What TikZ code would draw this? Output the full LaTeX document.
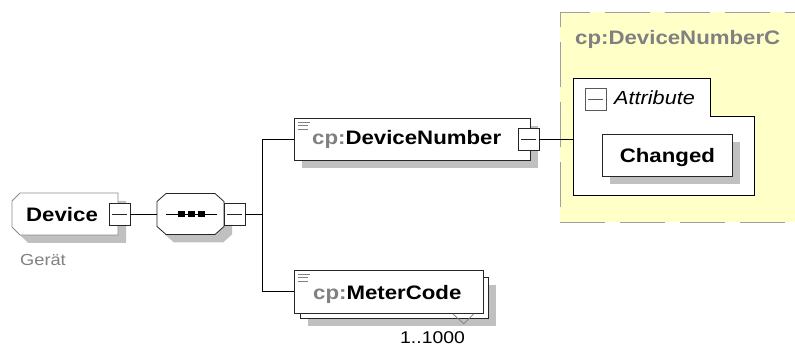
\documentclass[tikz,border=0pt]{standalone}
\usepackage{fontspec}
\setmainfont{Liberation Sans}[FakeStretch=1.14]
\usetikzlibrary{shadows,calc}
\definecolor{shd}{RGB}{192,192,192}
\definecolor{grpfill}{RGB}{255,255,200}
\definecolor{grpline}{RGB}{160,160,160}
\definecolor{nsgray}{RGB}{128,128,128}
\definecolor{devline}{RGB}{140,140,140}
\begin{document}
\begin{tikzpicture}[x=1pt,y=-1pt,
  dropshd/.style={general shadow={fill=shd, shadow xshift=8pt, shadow yshift=-8pt}},
  elbox/.style={draw=black!85, fill=white, line width=0.8pt, inner sep=0pt, dropshd},
  anchorbox/.style={inner sep=0pt, outer sep=0pt, anchor=north west},
  shdfill/.style={fill=shd, draw=none, transform canvas={shift={(8pt,-8pt)}}},
  minusbox/.style={draw=black!85, fill=white, line width=0.8pt, inner sep=0pt,
    minimum width=21, minimum height=22,
    path picture={\draw[line width=0.7pt] ([xshift=3pt]path picture bounding box.west) -- ([xshift=-3pt]path picture bounding box.east);}},
  boldlbl/.style={inner sep=0pt, anchor=base west, font=\fontsize{19.5}{22}\selectfont\bfseries},
  conn/.style={line width=0.8pt, black},
  noteicon/.style={nsgray, line width=0.8pt},
  % outline of the Device element: chamfered on the left only
  devpath/.style={insert path={($(dev.north west)+(8,0)$) -- (dev.north east) -- (dev.south east)
     -- ($(dev.south west)+(8,0)$) -- ($(dev.south west)+(0,-8)$) -- ($(dev.north west)+(0,8)$) -- cycle}},
  % outline of the sequence compositor: chamfered on all corners
  seqpath/.style={insert path={($(seq.north west)+(9,0)$) -- ($(seq.north east)+(-9,0)$) -- ($(seq.north east)+(0,8)$)
     -- ($(seq.south east)+(0,-8)$) -- ($(seq.south east)+(-9,0)$) -- ($(seq.south west)+(9,0)$)
     -- ($(seq.south west)+(0,-8)$) -- ($(seq.north west)+(0,8)$) -- cycle}}
]
\useasboundingbox (0,0) rectangle (795,347);

% attribute group (yellow, dashed)
\node[draw=grpline, fill=grpfill, line width=0.9pt, dash pattern=on 45pt off 15pt,
      minimum width=240, minimum height=210, anchorbox] (grp) at (560,12) {};
\node[boldlbl, text=nsgray] (grptitle) at (575,45) {cp:DeviceNumberC};

% Device element
\node[anchorbox, minimum width=106, minimum height=42] (dev) at (12,193) {};
\fill[shdfill, devpath];
\draw[devline, fill=white, line width=0.8pt, devpath];
\node[boldlbl] (devtxt) at (26,222) {Device};
\node[inner sep=0pt, anchor=base west, text=nsgray, font=\fontsize{16}{19}\selectfont] (devann) at (20,266) {Gerät};
\node[minusbox] (devm) at (119.5,214) {};

% sequence compositor
\node[anchorbox, minimum width=67, minimum height=41] (seq) at (157,193.5) {};
\fill[shdfill, seqpath];
\draw[black!85, fill=white, line width=0.8pt, seqpath];
\draw[line width=0.8pt] ($(seq.west)+(9,0)$) -- ($(seq.east)+(-7,0)$);
\foreach \dx in {-9,1,11}
  \fill ($(seq.center)+(\dx,0)+(-3.5,-2.5)$) rectangle ++(7,6);
\node[minusbox] (seqm) at (234.5,214) {};

% cp:DeviceNumber
\node[elbox, minimum width=236, minimum height=42, anchor=north west] (dn) at (294,118) {};
\foreach \dy/\len in {4/12,7.5/10,11/10}
  \draw[noteicon] ($(dn.north west)+(4,\dy)$) -- ++(\len,0);
\node[boldlbl] (dntxt) at (312,145) {\textcolor{nsgray}{cp:}DeviceNumber};
\node[minusbox] (dnm) at (528.5,139) {};

% cp:MeterCode (repeated element)
\node[elbox, minimum width=188, minimum height=41, anchor=north west] (mcb) at (300,277) {};
\node[draw=black!85, fill=white, line width=0.8pt, inner sep=0pt,
      minimum width=189, minimum height=43, anchor=north west] (mc) at (294,270) {};
\foreach \dy/\len in {4/12,7.5/10,11/10}
  \draw[noteicon] ($(mc.north west)+(4,\dy)$) -- ++(\len,0);
\node[boldlbl] (mctxt) at (313,299) {\textcolor{nsgray}{cp:}MeterCode};
\draw[nsgray, line width=0.8pt] ($(mc.south east)+(-31,0)$) -- ++(11,10) -- ++(10,-10);
\node[inner sep=0pt, anchor=base west, font=\fontsize{17}{20}\selectfont] (mcocc) at (400,343) {1..1000};

% attribute panel
\node[anchorbox, minimum width=181, minimum height=117] (attr) at (573,78) {};
\draw[line width=0.8pt, fill=white] (attr.north west) -- ++(137,0) -- ++(0,38) -| (attr.south east) -- (attr.south west) -- cycle;
\node[minusbox, draw=black!65] (attrm) at (595.5,99) {};
\node[inner sep=0pt, anchor=base west, font=\fontsize{19}{22}\selectfont\itshape] (attrtxt) at (614,105) {Attribute};
\node[elbox, minimum width=130, minimum height=42, anchor=north west,
      text height=13.6pt, text depth=0pt, font=\fontsize{19.5}{22}\selectfont\bfseries] (chg) at (602,134) {Changed};

% connectors
\coordinate (fork) at (262,214);
\draw[conn] (devm.east) -- (seq.west);
\draw[conn] (seqm.east) -- (fork) |- (dn.west);
\draw[conn] (fork) |- (mc.west);
\draw[conn] (dnm.east) -- (dnm.east -| attr.west);
\end{tikzpicture}
\end{document}
